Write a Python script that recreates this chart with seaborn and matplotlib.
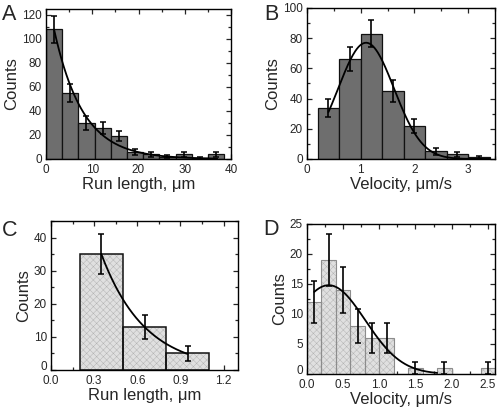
import numpy as np
import pandas as pd
import matplotlib
matplotlib.use("Agg")
import matplotlib.pyplot as plt
from matplotlib.ticker import MultipleLocator, FormatStrFormatter
from matplotlib.transforms import ScaledTranslation
import seaborn as sns

# ---------------- data ----------------
A_EDGES = [0, 3.5, 7, 10.5, 14, 17.5, 21, 24.5, 28, 31.5, 35, 38.5]
A_COUNTS = [108, 55, 30, 26, 19, 6, 4, 2, 4, 1, 4]
A_ERR = [11, 7.4, 5.6, 5.2, 4.4, 2.4, 2, 1.4, 2, 1, 2]
A_FIT_AMP, A_FIT_DECAY = 143.0, 6.2          # exponential fit
A_FIT_RANGE = (1.75, 37.0)

B_EDGES = [0.2, 0.6, 1.0, 1.4, 1.8, 2.2, 2.6, 3.0, 3.4]
B_COUNTS = [34, 66, 83, 45, 22, 5, 3, 1]
B_ERR = [6, 8, 9, 7, 4.7, 2.2, 1.7, 1]
B_FIT_AMP, B_FIT_MU, B_FIT_SIGMA = 77.0, 1.10, 0.52   # gaussian fit
B_FIT_RANGE = (0.4, 3.4)

C_EDGES = [0.2, 0.5, 0.8, 1.1]
C_COUNTS = [35, 13, 5]
C_ERR = [6, 3.6, 2.2]
C_FIT_AMP, C_FIT_DECAY = 35.0 * np.exp(0.35 / 0.303), 0.303
C_FIT_RANGE = (0.35, 0.95)

D_EDGES = [0.0, 0.2, 0.4, 0.6, 0.8, 1.0, 1.2, 1.4, 1.6, 1.8, 2.0, 2.2, 2.4, 2.6]
D_COUNTS = [12, 19, 14, 8, 6, 6, 0, 1, 0, 1, 0, 0, 1]
D_ERR = [3.5, 4.4, 3.8, 2.8, 2.5, 2.5, 0, 1, 0, 1, 0, 0, 1]
D_FIT_AMP, D_FIT_MU, D_FIT_SIGMA = 14.8, 0.30, 0.505
D_FIT_RANGE = (0.1, 1.8)

RUN_LABEL = "Run length, \u03bcm"
VEL_LABEL = "Velocity, \u03bcm/s"

# ---------------- style ----------------
sns.set_style("ticks")
plt.rcParams["font.family"] = ["Liberation Sans", "DejaVu Sans"]
plt.rcParams["hatch.linewidth"] = 0.35

W, H = 497, 408
fig = plt.figure(figsize=(W / 100, H / 100), dpi=100)


def add_axes(l, t, r, b):
    return fig.add_axes([l / W, 1 - b / H, (r - l) / W, (b - t) / H])


def panel(ax, edges, counts, errs, fit_x, fit_y, light, xlim, ylim,
          xmaj, xmin, ymaj, ymin, xlabel, xfmt=None):
    bins = [float(e) for e in edges]
    e = np.asarray(bins)
    centers = (e[:-1] + e[1:]) / 2
    df = pd.DataFrame({"x": centers, "w": np.asarray(counts, float)})
    if light:
        sns.histplot(data=df, x="x", weights="w", bins=bins, ax=ax,
                     color="#e0e0e0", edgecolor="#b4b4b4", linewidth=0,
                     alpha=1, hatch="xxxxx")
        sns.histplot(data=df, x="x", weights="w", bins=bins, ax=ax,
                     fill=False, color=light[0], linewidth=light[1])
    else:
        sns.histplot(data=df, x="x", weights="w", bins=bins, ax=ax,
                     color="#6e6e6e", edgecolor="#111111", linewidth=0.9,
                     alpha=1)
    sns.lineplot(x=fit_x, y=fit_y, ax=ax, color="black", linewidth=1.3)
    errs = np.asarray(errs, float)
    m = errs > 0
    ax.errorbar(centers[m], np.asarray(counts, float)[m], yerr=errs[m],
                fmt="none", ecolor="black", elinewidth=1.2, capsize=2,
                capthick=1.1, zorder=5)
    ax.set_xlim(*xlim)
    ax.set_ylim(*ylim)
    ax.xaxis.set_major_locator(MultipleLocator(xmaj))
    ax.xaxis.set_minor_locator(MultipleLocator(xmin))
    ax.yaxis.set_major_locator(MultipleLocator(ymaj))
    ax.yaxis.set_minor_locator(MultipleLocator(ymin))
    if xfmt:
        ax.xaxis.set_major_formatter(xfmt)
    ax.tick_params(which="both", direction="in", top=True, right=True,
                   labelsize=8.5, width=0.9)
    ax.tick_params(axis="x", which="both", pad=3.6)
    ax.tick_params(axis="y", which="both", pad=3)
    ax.tick_params(which="major", length=3.5)
    ax.tick_params(which="minor", length=2)
    for s in ax.spines.values():
        s.set_linewidth(1.0)
        s.set_color("black")
    ax.set_xlabel(xlabel, fontsize=12, labelpad=0.5)
    ax.set_ylabel("Counts", fontsize=12, labelpad=2)


# A
axA = add_axes(46, 9, 231, 159)
xa = np.linspace(*A_FIT_RANGE, 200)
panel(axA, A_EDGES, A_COUNTS, A_ERR, xa, A_FIT_AMP * np.exp(-xa / A_FIT_DECAY),
      None, (0, 40), (0, 125), 10, 5, 20, 10, RUN_LABEL)

# B
axB = add_axes(307, 8, 495, 159)
xb = np.linspace(*B_FIT_RANGE, 200)
panel(axB, B_EDGES, B_COUNTS, B_ERR, xb,
      B_FIT_AMP * np.exp(-(xb - B_FIT_MU) ** 2 / (2 * B_FIT_SIGMA ** 2)),
      None, (0, 3.5), (0, 100), 1, 0.5, 20, 10, VEL_LABEL)

# C
axC = add_axes(51, 221, 238, 370)
xc = np.linspace(*C_FIT_RANGE, 200)
panel(axC, C_EDGES, C_COUNTS, C_ERR, xc, C_FIT_AMP * np.exp(-xc / C_FIT_DECAY),
      ("#111111", 1.1), (0, 1.3), (0, 45), 0.3, 0.15, 10, 5, RUN_LABEL,
      xfmt=FormatStrFormatter("%.1f"))

# D
axD = add_axes(307, 224, 495, 374)
xd = np.linspace(*D_FIT_RANGE, 200)
panel(axD, D_EDGES, D_COUNTS, D_ERR, xd,
      D_FIT_AMP * np.exp(-(xd - D_FIT_MU) ** 2 / (2 * D_FIT_SIGMA ** 2)),
      ("#8c8c8c", 0.8), (0, 2.6), (0, 25), 0.5, 0.25, 5, 2.5, VEL_LABEL,
      xfmt=FormatStrFormatter("%.1f"))

for letter, x, y in [("A", 2, 4), ("B", 264, 4), ("C", 2, 220), ("D", 263, 219)]:
    fig.text(x / W, 1 - y / H, letter, fontsize=15.5, va="top", ha="left")

# lift the y "0" label slightly so it clears the "0.0" x label (as in reference)
fig.canvas.draw()
for ax in (axC, axD):
    for t in ax.yaxis.get_major_ticks():
        if abs(t.get_loc()) < 1e-9:
            t.label1.set_transform(
                t.label1.get_transform()
                + ScaledTranslation(0, 3.5 / 72, fig.dpi_scale_trans))

fig.savefig("out.png", dpi=100)
